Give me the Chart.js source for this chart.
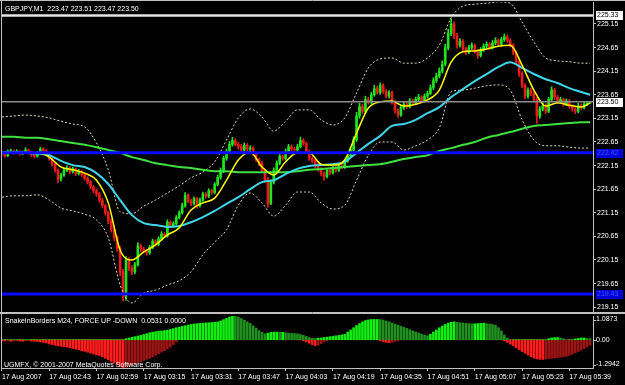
<!DOCTYPE html>
<html><head><meta charset="utf-8">
<script src="https://cdn.jsdelivr.net/npm/chart.js@4/dist/chart.umd.min.js"></script>
<style>
html,body{margin:0;padding:0;background:#000;width:625px;height:385px;overflow:hidden}
#w1{position:absolute;left:0;top:0;width:625px;height:313px}
#w2{position:absolute;left:0;top:313px;width:625px;height:72px}
</style></head><body>
<div id="w1"><canvas id="main"></canvas></div>
<div id="w2"><canvas id="sub"></canvas></div>
<script>
// ---- DATA ----
const symbolTitle = 'GBPJPY,M1  223.47 223.51 223.47 223.50';
const subTitle = 'SnakeInBorders M24, FORCE UP -DOWN  0.0531 0.0000';
const copyright = 'UGMFX, \u00A9 2001-2007 MetaQuotes Software Corp.';

const timeTickIdx = [0,16,32,48,64,80,96,112,128,144,160,176,192];
const timeLabels = ['17 Aug 2007','17 Aug 02:43','17 Aug 02:59','17 Aug 03:15','17 Aug 03:31','17 Aug 03:47','17 Aug 04:03','17 Aug 04:19','17 Aug 04:35','17 Aug 04:51','17 Aug 05:07','17 Aug 05:23','17 Aug 05:39'];
const priceTicks = [219.15,219.65,220.15,220.65,221.15,221.65,222.15,222.65,223.15,223.65,224.15,224.65,225.15];
const subTicks = [1.0873, 0, -1.2942];
const subTickLabels = ['1.0873','0.00','-1.2942'];

const opens = [
222.42,222.40,222.36,222.44,222.46,222.42,222.45,222.40,222.43,222.48,
222.44,222.38,222.35,222.42,222.50,222.47,222.40,222.30,222.18,222.05,
221.86,221.95,222.05,222.10,222.02,222.08,221.98,222.03,221.96,221.88,
221.80,221.70,221.62,221.55,221.42,221.30,221.15,220.98,220.80,220.62,
220.40,219.90,219.38,220.15,219.98,219.90,220.05,220.45,220.38,220.35,
220.30,220.42,220.55,220.48,220.60,220.70,220.66,220.95,220.88,220.92,
221.05,221.15,221.30,221.52,221.40,221.35,221.45,221.30,221.42,221.55,
221.50,221.62,221.58,221.75,221.90,222.05,222.30,222.45,222.60,222.68,
222.60,222.55,222.48,222.58,222.50,222.52,222.40,222.28,222.20,222.05,
221.85,221.35,221.80,222.05,222.20,222.35,222.30,222.45,222.55,222.50,
222.48,222.55,222.68,222.62,222.45,222.30,222.25,222.15,222.08,221.98,
221.92,222.05,222.00,222.10,222.05,222.15,222.12,222.25,222.35,222.48,
222.70,223.20,223.40,223.30,223.55,223.50,223.65,223.78,223.70,223.85,
223.72,223.62,223.70,223.50,223.32,223.22,223.38,223.45,223.40,223.52,
223.48,223.55,223.60,223.52,223.62,223.68,223.80,223.95,224.05,224.15,
224.30,224.65,224.95,225.15,224.90,224.70,224.78,224.62,224.55,224.65,
224.70,224.58,224.48,224.60,224.68,224.72,224.65,224.75,224.80,224.72,
224.82,224.88,224.80,224.70,224.55,224.35,224.10,223.85,223.62,223.75,
223.68,223.55,223.20,223.35,223.42,223.30,223.55,223.75,223.60,223.50,
223.55,223.45,223.52,223.40,223.35,223.30,223.42,223.38,223.45,223.47];
const highs = [
222.46,222.43,222.48,222.50,222.48,222.49,222.47,222.46,222.53,222.50,
222.46,222.41,222.45,222.54,222.53,222.49,222.43,222.32,222.21,222.08,
221.99,222.09,222.15,222.13,222.12,222.10,222.07,222.05,221.99,221.91,
221.84,221.73,221.66,221.58,221.46,221.33,221.19,221.02,220.84,220.66,
220.44,219.95,220.22,220.20,220.03,220.10,220.52,220.49,220.42,220.38,
220.46,220.59,220.58,220.64,220.75,220.73,221.00,220.98,220.96,221.09,
221.19,221.35,221.58,221.55,221.44,221.49,221.48,221.46,221.59,221.58,
221.66,221.65,221.79,221.95,222.10,222.35,222.50,222.66,222.75,222.72,
222.64,222.60,222.63,222.62,222.57,222.55,222.43,222.31,222.24,222.08,
221.90,221.85,222.10,222.25,222.40,222.38,222.50,222.60,222.59,222.54,
222.60,222.75,222.72,222.65,222.48,222.34,222.28,222.19,222.11,222.02,
222.09,222.08,222.14,222.13,222.19,222.18,222.29,222.40,222.53,222.76,
223.28,223.47,223.45,223.62,223.60,223.70,223.85,223.83,223.90,223.88,
223.76,223.74,223.73,223.54,223.35,223.43,223.50,223.49,223.57,223.56,
223.60,223.66,223.63,223.67,223.73,223.86,224.01,224.11,224.22,224.37,
224.72,225.04,225.26,225.20,224.95,224.84,224.82,224.66,224.70,224.75,
224.73,224.62,224.65,224.73,224.77,224.76,224.80,224.86,224.84,224.87,
224.94,224.92,224.84,224.73,224.58,224.39,224.14,223.89,223.80,223.79,
223.72,223.59,223.40,223.48,223.46,223.60,223.82,223.79,223.64,223.60,
223.58,223.56,223.55,223.44,223.38,223.47,223.46,223.49,223.51,223.51];
const lows = [
222.37,222.33,222.34,222.42,222.39,222.40,222.37,222.38,222.41,222.41,
222.34,222.31,222.33,222.40,222.44,222.36,222.26,222.14,222.01,221.79,
221.82,221.92,222.02,221.98,221.99,221.94,221.95,221.92,221.84,221.76,
221.66,221.57,221.50,221.37,221.25,221.10,220.92,220.74,220.56,220.33,
219.82,219.28,219.30,219.92,219.84,219.86,220.02,220.33,220.30,220.25,
220.27,220.39,220.44,220.45,220.57,220.62,220.63,220.84,220.85,220.89,
221.02,221.12,221.27,221.36,221.30,221.31,221.25,221.27,221.39,221.46,
221.47,221.54,221.55,221.72,221.86,222.00,222.26,222.42,222.56,222.56,
222.50,222.44,222.45,222.46,222.47,222.36,222.24,222.15,222.00,221.80,
221.27,221.32,221.76,222.01,222.17,222.26,222.27,222.42,222.46,222.44,
222.45,222.52,222.58,222.41,222.26,222.21,222.11,222.03,221.93,221.84,
221.89,221.96,221.97,222.01,222.02,222.08,222.09,222.22,222.32,222.45,
222.66,223.15,223.25,223.27,223.45,223.46,223.62,223.66,223.66,223.68,
223.58,223.58,223.45,223.26,223.17,223.19,223.34,223.36,223.37,223.44,
223.45,223.51,223.48,223.49,223.58,223.65,223.76,223.91,224.01,224.11,
224.26,224.60,224.90,224.84,224.64,224.66,224.57,224.50,224.52,224.61,
224.53,224.42,224.45,224.57,224.64,224.61,224.62,224.71,224.68,224.69,
224.78,224.76,224.66,224.50,224.30,224.04,223.80,223.57,223.58,223.63,
223.50,223.05,223.15,223.31,223.25,223.27,223.52,223.55,223.46,223.47,
223.41,223.42,223.36,223.30,223.25,223.27,223.34,223.35,223.42,223.47];
const closes = [
222.40,222.36,222.44,222.46,222.42,222.45,222.40,222.43,222.48,222.44,
222.38,222.35,222.42,222.50,222.47,222.40,222.30,222.18,222.05,221.86,
221.95,222.05,222.10,222.02,222.08,221.98,222.03,221.96,221.88,221.80,
221.70,221.62,221.55,221.42,221.30,221.15,220.98,220.80,220.62,220.40,
219.90,219.38,220.15,219.98,219.90,220.05,220.45,220.38,220.35,220.30,
220.42,220.55,220.48,220.60,220.70,220.66,220.95,220.88,220.92,221.05,
221.15,221.30,221.52,221.40,221.35,221.45,221.30,221.42,221.55,221.50,
221.62,221.58,221.75,221.90,222.05,222.30,222.45,222.60,222.68,222.60,
222.55,222.48,222.58,222.50,222.52,222.40,222.28,222.20,222.05,221.85,
221.35,221.80,222.05,222.20,222.35,222.30,222.45,222.55,222.50,222.48,
222.55,222.68,222.62,222.45,222.30,222.25,222.15,222.08,221.98,221.92,
222.05,222.00,222.10,222.05,222.15,222.12,222.25,222.35,222.48,222.70,
223.20,223.40,223.30,223.55,223.50,223.65,223.78,223.70,223.85,223.72,
223.62,223.70,223.50,223.32,223.22,223.38,223.45,223.40,223.52,223.48,
223.55,223.60,223.52,223.62,223.68,223.80,223.95,224.05,224.15,224.30,
224.65,224.95,225.15,224.90,224.70,224.78,224.62,224.55,224.65,224.70,
224.58,224.48,224.60,224.68,224.72,224.65,224.75,224.80,224.72,224.82,
224.88,224.80,224.70,224.55,224.35,224.10,223.85,223.62,223.75,223.68,
223.55,223.20,223.35,223.42,223.30,223.55,223.75,223.60,223.50,223.55,
223.45,223.52,223.40,223.35,223.30,223.42,223.38,223.45,223.47,223.50];

// indicator lines, read at these bar indices
const sampleBars = [0,4,8,12,16,20,24,28,32,36,40,44,48,52,56,60,64,68,72,76,80,84,88,92,96,100,104,108,112,116,120,124,128,132,136,140,144,148,152,156,160,164,168,172,176,180,184,188,192,196,199];
const fastMA = [222.42,222.42,222.42,222.42,222.33,222.12,222.06,221.99,221.84,221.36,220.36,220.15,220.32,220.47,220.68,220.83,221.21,221.36,221.46,221.84,222.27,222.44,222.12,221.95,222.23,222.42,222.42,222.18,222.16,222.27,222.84,223.37,223.50,223.52,223.41,223.45,223.54,223.75,224.34,224.56,224.58,224.62,224.68,224.70,224.28,223.75,223.41,223.48,223.43,223.39,223.48];
const midMA = [222.44,222.44,222.42,222.40,222.37,222.25,222.16,222.12,221.99,221.76,221.42,221.10,220.93,220.89,220.85,220.87,220.95,221.06,221.19,221.34,221.48,221.65,221.80,221.84,221.97,222.08,222.14,222.16,222.18,222.23,222.42,222.61,222.78,222.99,223.03,223.12,223.26,223.39,223.60,223.77,223.94,224.09,224.24,224.34,224.22,224.09,223.98,223.90,223.79,223.71,223.65];
const slowMA = [222.76,222.76,222.74,222.74,222.71,222.67,222.63,222.59,222.54,222.48,222.42,222.33,222.27,222.20,222.16,222.12,222.10,222.06,222.03,222.03,222.01,222.01,222.01,222.01,222.01,222.03,222.06,222.08,222.10,222.12,222.14,222.16,222.18,222.23,222.29,222.33,222.37,222.46,222.52,222.59,222.65,222.74,222.80,222.86,222.93,222.99,223.01,223.03,223.05,223.07,223.07];
const upperBand = [223.18,223.20,223.22,223.20,223.16,223.09,223.03,222.97,222.63,222.06,221.17,221.13,221.29,221.42,221.57,221.72,221.89,222.01,222.23,222.69,223.16,223.35,223.18,222.88,223.09,223.33,223.33,223.12,223.01,223.16,223.69,224.22,224.41,224.43,224.32,224.32,224.43,224.70,225.28,225.53,225.57,225.59,225.62,225.59,225.19,224.77,224.43,224.37,224.35,224.32,224.32];
const lowerBand = [221.48,221.51,221.51,221.53,221.42,221.25,221.19,221.12,221.00,220.62,219.62,219.24,219.45,219.51,219.62,219.71,219.90,220.26,220.53,220.79,221.31,221.57,221.36,221.08,221.31,221.59,221.59,221.36,221.23,221.31,221.84,222.37,222.65,222.65,222.48,222.57,222.69,222.95,223.71,223.75,223.79,223.84,223.86,223.75,223.12,222.69,222.57,222.57,222.54,222.52,222.52];

// horizontal levels
const levelValues = [225.33, 223.50, 222.42, 219.43];
const levelLabels = ['225.33','223.50','222.42','219.43'];

// histogram (FORCE UP / DOWN)
const forceUp = [
0,0,0,0,0,0,0,0,0,0, 0,0,0,0,0,0,0,0,0,0, 0,0,0,0,0,0,0,0,0,0, 0,0,0,0,0,0,0,0,0,0, 0,0,
0.05,0.08,0.11,0.14,0.17,0.20,0.24,0.28,0.32,0.35,0.37,0.39,0.40,0.42,0.44,0.47,0.51,0.55,0.58,
0.61,0.64,0.67,0.70,0.72,0.74,0.75,0.76,0.77,0.78,0.79,0.80,0.82,0.86,0.92,0.98,1.04,1.09,1.08,1.04,
0.97,0.90,0.82,0.75,0.64,0.53,0.42,0.34,0.27,0.30,0.34,0.35,0.35,0.34,0.34,0.32,0.30,0.29,0.28,0.27,
0.24,0.20,0.15,0.10,0.07,0.06,0.07,0.08,0.10,0.12,
0.14,0.16,0.18,0.20,0.22,0.25,0.35,0.45,0.55,0.65,0.74,0.82,0.88,0.91,0.93,0.93,0.93,0.92,
0.90,0.86,0.82,0.77,0.72,0.67,0.62,0.57,0.52,0.46,0.41,0.36,0.31,0.26,0.22,0.18,
0.25,0.35,0.45,0.55,0.63,0.70,0.76,0.80,0.82,
0.80,0.78,0.77,0.75,0.74,0.73,0.73,0.74,0.75,0.76,0.74,0.72,0.70,0.66,
0.55,0.40,0.22,0.08,
0,0,0,0,0,0,0,0,0,0,0,0,0,
0.05,0.08,0.10,0.10,0.08,0.05,
0,0,0,
0.04,0.06,0.08,0.08,0.06,0.05];
const forceDown = [
-0.05,-0.06,-0.05,-0.07,-0.06,-0.05,-0.06,-0.07,-0.06,-0.05,-0.06,-0.07,-0.08,
-0.09,-0.12,-0.15,-0.19,-0.22,-0.25,-0.28,-0.30,-0.32,-0.34,-0.37,-0.40,-0.43,-0.46,-0.50,-0.53,-0.57,-0.61,-0.65,-0.69,-0.72,-0.78,-0.85,-0.92,-1.00,-1.07,-1.14,-1.22,-1.29,
-1.25,-1.20,-1.15,-1.10,-1.05,-1.00,-0.95,-0.90,-0.85,-0.78,-0.71,-0.64,-0.57,-0.50,-0.43,-0.33,-0.22,-0.10,
0,0,0,0,0,0,0,0,0,0, 0,0,0,0,0,0,0,0,0,0, 0,0,0,0,0,0,0,0,0,0, 0,0,0,0,0,0,0,0,0,0, 0,0,
-0.05,-0.10,-0.16,-0.22,-0.27,-0.25,-0.18,-0.10,-0.04,
0,0,0,0,0,0,0,0,0,0, 0,0,0,0,0,0,0,
-0.04,-0.08,-0.12,-0.14,-0.12,-0.08,-0.05,
0,0,0,0,0,0,0,0,0,0, 0,0,0,0,0,0,0,0,0,0, 0,0,0,0,0,0,0,0,0,0, 0,0,0,0,0,
-0.05,-0.12,-0.20,-0.28,-0.37,-0.45,-0.54,-0.62,-0.70,-0.78,-0.84,-0.88,-0.90,-0.90,-0.88,-0.86,-0.85,-0.84,-0.82,-0.80,-0.78,-0.76,-0.72,-0.66,-0.60,-0.54,-0.47,-0.40,-0.33,-0.25];

// ---- STYLE / LAYOUT ----
const FAM = '"Liberation Sans", Arial, sans-serif';
const FS = 7;
const FONT = FS + 'px ' + FAM;
const X_MIN = -0.3, X_MAX = 200;
const Y_MIN = 219.069, Y_MAX = 225.616;
const SUB_MIN = -1.2942, SUB_MAX = 1.0873;
const AXIS_W = 32;
const FRAME = '#c0c0c0';
const BULL = '#1fe51f', BEAR = '#e81c1c';
const levelColors = ['#e4e4e4', '#8c8c8c', '#0a0aff', '#0a0aff'];
const levelWidths = [2.5, 1.5, 3, 3];
const levelBoxBg = ['#ffffff', '#ffffff', '#0000d8', '#0000d8'];
const levelBoxFg = ['#000000', '#000000', '#3a5cff', '#3a5cff'];

Chart.defaults.font.family = FAM;
Chart.defaults.font.size = FS;

const candleCol = closes.map((c, i) => c >= opens[i] ? BULL : BEAR);
function noPad(s){ s.paddingLeft = 0; s.paddingRight = 0; s.paddingTop = 0; s.paddingBottom = 0; }
function linePts(arr){ return sampleBars.map((b, k) => ({x: b, y: arr[k]})); }

const levelSets = levelValues.map((v, k) => ({
  type: 'line', order: 0, data: [{x: -5, y: v}, {x: 205, y: v}],
  borderColor: levelColors[k], borderWidth: levelWidths[k], pointRadius: 0, fill: false
}));
function maSet(arr, color, width, dash){
  return {type: 'line', order: 1, data: linePts(arr), borderColor: color, borderWidth: width,
    borderDash: dash || [], pointRadius: 0, fill: false, cubicInterpolationMode: 'monotone'};
}

const mainDeco = {
  id: 'mainDeco',
  afterDraw(chart){
    const ctx = chart.ctx, a = chart.chartArea, ys = chart.scales.y;
    ctx.save();
    ctx.strokeStyle = FRAME; ctx.lineWidth = 1;
    ctx.beginPath();
    ctx.moveTo(0, 0.5); ctx.lineTo(625, 0.5);
    ctx.moveTo(1.5, 0); ctx.lineTo(1.5, 313);
    ctx.moveTo(0, 312.5); ctx.lineTo(625, 312.5);
    ctx.stroke();
    ctx.font = FONT; ctx.fillStyle = '#ffffff'; ctx.textBaseline = 'alphabetic'; ctx.textAlign = 'left';
    ctx.fillText(symbolTitle, 5, 10.5);
    ctx.textBaseline = 'middle';
    levelValues.forEach((v, k) => {
      const py = Math.round(ys.getPixelForValue(v));
      ctx.fillStyle = levelBoxBg[k];
      ctx.fillRect(a.right + 3, py - 4, 27, 9);
      ctx.fillStyle = levelBoxFg[k];
      ctx.fillText(levelLabels[k], a.right + 4, py + 0.5);
    });
    ctx.restore();
  }
};

new Chart(document.getElementById('main'), {
  type: 'bar',
  data: { datasets: [
    ...levelSets,
    maSet(fastMA, '#ffff00', 1.5),
    maSet(midMA, '#3fd6ea', 2),
    maSet(slowMA, '#40e040', 2),
    maSet(upperBand, '#dcdcb0', 1, [2, 2]),
    maSet(lowerBand, '#dcdcb0', 1, [2, 2]),
    { type: 'bar', order: 2, grouped: false, barThickness: 2, minBarLength: 1,
      data: opens.map((o, i) => ({x: i, y: [Math.min(o, closes[i]), Math.max(o, closes[i])]})),
      backgroundColor: candleCol, borderWidth: 0 },
    { type: 'bar', order: 3, grouped: false, barThickness: 1,
      data: highs.map((h, i) => ({x: i, y: [lows[i], h]})),
      backgroundColor: candleCol, borderWidth: 0 }
  ]},
  options: {
    responsive: true, maintainAspectRatio: false, animation: false, devicePixelRatio: 1, events: [],
    layout: { padding: { left: 1, right: 0, top: 2, bottom: 2 } },
    plugins: { legend: { display: false }, tooltip: { enabled: false } },
    scales: {
      x: { type: 'linear', min: X_MIN, max: X_MAX, display: false, offset: false },
      y: { position: 'right', min: Y_MIN, max: Y_MAX,
        afterBuildTicks: s => { s.ticks = priceTicks.map(v => ({value: v})); },
        afterFit: s => { s.width = AXIS_W; noPad(s); },
        ticks: { color: '#ffffff', padding: 1, font: {family: FAM, size: FS}, callback: v => Number(v).toFixed(2) },
        grid: { drawOnChartArea: false, color: FRAME, tickLength: 3 },
        border: { color: FRAME }
      }
    }
  },
  plugins: [mainDeco]
});

// ---- sub window ----
const upCol = forceUp.map((v, i) => (i === 0 || v >= forceUp[i - 1]) ? '#11ee11' : '#1f8f1f');
const dnCol = forceDown.map((v, i) => (i === 0 || v <= forceDown[i - 1]) ? '#ff1c1c' : '#9c1414');

const subDeco = {
  id: 'subDeco',
  afterDraw(chart){
    const ctx = chart.ctx, a = chart.chartArea, ys = chart.scales.y;
    ctx.save();
    ctx.strokeStyle = FRAME; ctx.lineWidth = 1;
    ctx.beginPath();
    ctx.moveTo(0, 0.5); ctx.lineTo(625, 0.5);
    ctx.moveTo(1.5, 0); ctx.lineTo(1.5, a.bottom);
    ctx.stroke();
    ctx.font = FONT; ctx.fillStyle = '#ffffff'; ctx.textAlign = 'left'; ctx.textBaseline = 'alphabetic';
    ctx.fillText(subTitle, 5, 10);
    ctx.fillText(copyright, 4, a.bottom - 1);
    subTicks.forEach((v, k) => {
      let py = ys.getPixelForValue(v), ty;
      if (k === 0) { ctx.textBaseline = 'top'; ty = py + 3.5; }
      else if (k === subTicks.length - 1) { ctx.textBaseline = 'bottom'; ty = py - 3.5; }
      else { ctx.textBaseline = 'middle'; ty = py; }
      ctx.strokeStyle = FRAME;
      ctx.beginPath(); ctx.moveTo(a.right, Math.round(ty) + 0.5); ctx.lineTo(a.right + 3, Math.round(ty) + 0.5); ctx.stroke();
      ctx.fillStyle = '#ffffff';
      ctx.fillText(subTickLabels[k], a.right + 3, k === 0 ? py : (k === subTicks.length - 1 ? py : py));
    });
    ctx.restore();
  }
};

new Chart(document.getElementById('sub'), {
  type: 'bar',
  data: { datasets: [
    { grouped: false, barThickness: 2, data: forceUp.map((v, i) => ({x: i, y: v})), backgroundColor: upCol, borderWidth: 0 },
    { grouped: false, barThickness: 2, data: forceDown.map((v, i) => ({x: i, y: v})), backgroundColor: dnCol, borderWidth: 0 }
  ]},
  options: {
    responsive: true, maintainAspectRatio: false, animation: false, devicePixelRatio: 1, events: [],
    layout: { padding: { left: 1, right: 0, top: 3, bottom: 0 } },
    plugins: { legend: { display: false }, tooltip: { enabled: false } },
    scales: {
      x: { type: 'linear', min: X_MIN, max: X_MAX, offset: false, position: 'bottom',
        afterBuildTicks: s => { s.ticks = timeTickIdx.map(v => ({value: v})); },
        afterFit: s => { s.height = 17; noPad(s); },
        ticks: { color: '#ffffff', align: 'start', maxRotation: 0, autoSkip: false, padding: 2,
          font: {family: FAM, size: FS},
          callback: v => { const k = timeTickIdx.indexOf(v); return k >= 0 ? timeLabels[k] : ''; } },
        grid: { drawOnChartArea: false, color: FRAME, tickLength: 3, offset: false },
        border: { color: FRAME }
      },
      y: { position: 'right', min: SUB_MIN, max: SUB_MAX,
        ticks: { display: false }, grid: { display: false },
        border: { color: FRAME },
        afterFit: s => { s.width = AXIS_W; noPad(s); }
      }
    }
  },
  plugins: [subDeco]
});
</script>
</body></html>
